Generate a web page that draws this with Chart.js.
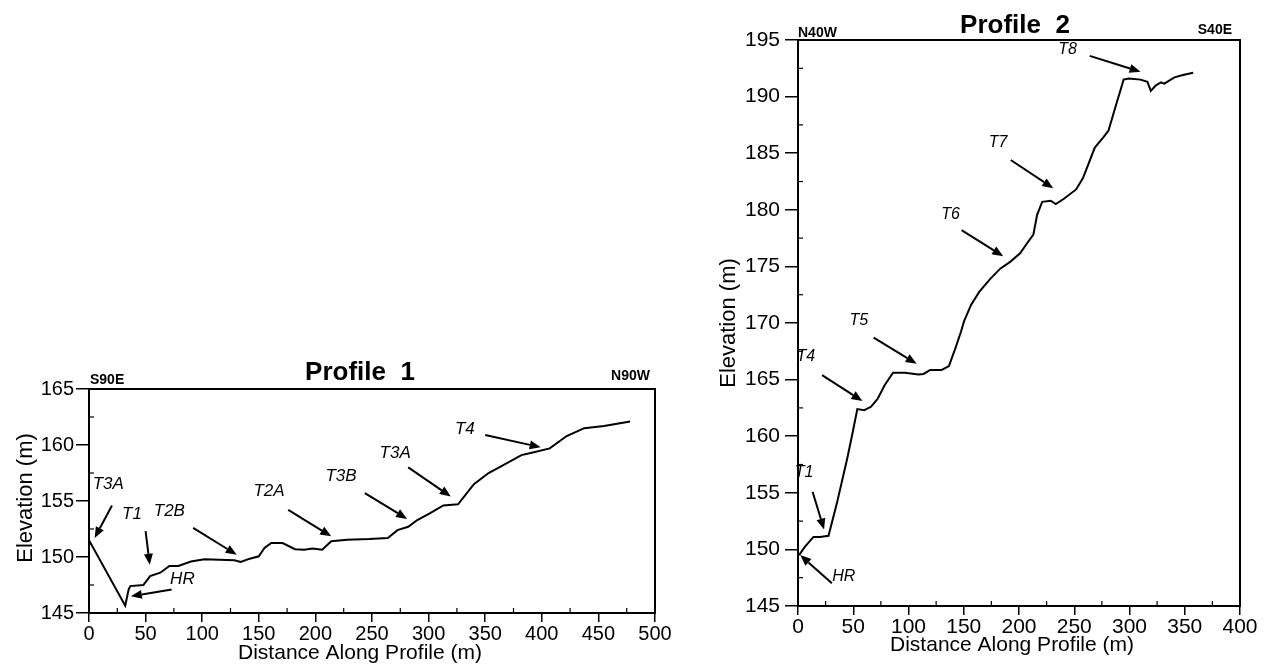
<!DOCTYPE html>
<html><head><meta charset="utf-8">
<script src="https://cdn.jsdelivr.net/npm/chart.js@4/dist/chart.umd.min.js"></script>
<style>
html,body{margin:0;padding:0;background:#fff;width:1264px;height:666px;overflow:hidden;}
#w1{position:absolute;left:0;top:340px;width:700px;height:326px;}
#w2{position:absolute;left:700px;top:0;width:564px;height:666px;}
</style></head><body>
<div id="w1"><canvas id="c1"></canvas></div>
<div id="w2"><canvas id="c2"></canvas></div>
<script>
// ---------- Profile 1 data ----------
const p1Dist = [0, 32, 35, 36.5, 48, 54, 63, 71, 79, 90, 102, 128.5, 134, 142, 150, 155, 161, 171, 182, 190, 197.6, 206, 214, 228, 247.5, 264, 272.5, 282, 290, 301, 313, 326, 340, 353, 366, 382, 393, 407, 422, 437.5, 455, 478];
const p1Elev = [151.5, 145.65, 147.1, 147.4, 147.5, 148.3, 148.6, 149.2, 149.2, 149.6, 149.8, 149.7, 149.55, 149.85, 150.06, 150.8, 151.25, 151.25, 150.7, 150.65, 150.75, 150.65, 151.4, 151.55, 151.6, 151.7, 152.4, 152.7, 153.3, 153.9, 154.6, 154.7, 156.5, 157.5, 158.2, 159.1, 159.35, 159.7, 160.8, 161.5, 161.7, 162.1];
const p1XTicks = [0, 50, 100, 150, 200, 250, 300, 350, 400, 450, 500];
const p1YTicks = [145, 150, 155, 160, 165];
// [label, labelX, labelY, arrowFromX, arrowFromY, arrowToX, arrowToY]
const p1Notes = [
  ["T3A", 17, 156.5, 20.3, 154.6, 5, 151.7],
  ["T1", 38, 153.8, 50, 152.3, 53.7, 149.3],
  ["T2B", 71, 154.1, 92, 152.6, 130.5, 150.2],
  ["HR", 82.5, 148.0, 73, 147.1, 37, 146.5],
  ["T2A", 159, 155.9, 176, 154.2, 214, 151.85],
  ["T3B", 222.6, 157.2, 243.7, 155.7, 281, 153.4],
  ["T3A", 270.5, 159.3, 282, 158.0, 319.6, 155.4],
  ["T4", 332, 161.4, 350, 160.9, 399, 159.8]
];
// ---------- Profile 2 data ----------
const p2Dist = [1, 6, 14, 20, 27.6, 35, 44.5, 49, 53.7, 60, 66, 72, 78.4, 86, 96.7, 109, 113.6, 119.7, 130, 136.6, 142.7, 147.4, 150.4, 156.6, 164, 174, 183, 192, 201, 207, 213, 216.4, 221, 228.7, 233.3, 241, 251.7, 257.9, 268.6, 276.3, 281, 287, 294.7, 299.3, 310, 316.2, 319.3, 323.9, 328.5, 331.5, 340.7, 348.4, 357.6];
const p2Elev = [149.5, 150.2, 151.1, 151.1, 151.2, 154.0, 158.0, 160.1, 162.4, 162.3, 162.6, 163.3, 164.5, 165.6, 165.6, 165.45, 165.5, 165.85, 165.85, 166.2, 167.85, 169.2, 170.2, 171.6, 172.75, 173.9, 174.8, 175.4, 176.15, 177.0, 177.8, 179.55, 180.7, 180.8, 180.5, 181.0, 181.8, 182.8, 185.5, 186.4, 187.0, 189.0, 191.5, 191.6, 191.5, 191.3, 190.5, 191.0, 191.25, 191.15, 191.7, 191.9, 192.1];
const p2XTicks = [0, 50, 100, 150, 200, 250, 300, 350, 400];
const p2YTicks = [145, 150, 155, 160, 165, 170, 175, 180, 185, 190, 195];
const p2Notes = [
  ["T8", 244, 194.2, 264, 193.6, 310, 192.2],
  ["T7", 181, 185.9, 192.5, 184.4, 231, 181.9],
  ["T6", 138, 179.6, 148, 178.2, 185.7, 175.9],
  ["T5", 55, 170.2, 68.5, 168.7, 107.4, 166.4],
  ["T4", 7, 167.05, 21.8, 165.4, 58.3, 163.1],
  ["T1", 5.5, 156.8, 13.2, 155.1, 23.6, 151.75],
  ["HR", 41.4, 147.6, 30.7, 147.0, 2, 149.5]
];

const FONT = "'Liberation Sans', Arial, Helvetica, sans-serif";

function build(id, cfg) {
  const pts = cfg.dist.map((d, i) => ({x: d, y: cfg.elev[i]}));
  const deco = {
    id: 'deco',
    afterDraw(chart) {
      const {ctx, chartArea: a, scales: {x, y}} = chart;
      ctx.save();
      ctx.strokeStyle = '#000'; ctx.fillStyle = '#000';
      ctx.lineWidth = 2;
      ctx.strokeRect(a.left, a.top, a.right - a.left, a.bottom - a.top);
      // minor ticks
      ctx.lineWidth = 1.2;
      const yt = cfg.yTicks, xt = cfg.xTicks;
      for (let i = 0; i < yt.length - 1; i++) {
        const py = y.getPixelForValue((yt[i] + yt[i + 1]) / 2);
        ctx.beginPath(); ctx.moveTo(a.left, py); ctx.lineTo(a.left + 5, py); ctx.stroke();
      }
      for (let i = 0; i < xt.length - 1; i++) {
        const px = x.getPixelForValue((xt[i] + xt[i + 1]) / 2);
        ctx.beginPath(); ctx.moveTo(px, a.bottom); ctx.lineTo(px, a.bottom - 5); ctx.stroke();
      }
      // annotations
      ctx.font = 'italic ' + cfg.noteSize + 'px ' + FONT;
      ctx.textAlign = 'center'; ctx.textBaseline = 'middle';
      cfg.notes.forEach(n => {
        ctx.fillText(n[0], x.getPixelForValue(n[1]), y.getPixelForValue(n[2]));
        const x0 = x.getPixelForValue(n[3]), y0 = y.getPixelForValue(n[4]);
        const x1 = x.getPixelForValue(n[5]), y1 = y.getPixelForValue(n[6]);
        const ang = Math.atan2(y1 - y0, x1 - x0);
        const L = 11, W = 4.5;
        const bx = x1 - L * Math.cos(ang), by = y1 - L * Math.sin(ang);
        ctx.lineWidth = 2;
        ctx.beginPath(); ctx.moveTo(x0, y0); ctx.lineTo(bx, by); ctx.stroke();
        ctx.beginPath();
        ctx.moveTo(x1, y1);
        ctx.lineTo(bx + W * Math.sin(ang), by - W * Math.cos(ang));
        ctx.lineTo(bx - W * Math.sin(ang), by + W * Math.cos(ang));
        ctx.closePath(); ctx.fill();
      });
      // titles
      ctx.textBaseline = 'alphabetic';
      ctx.font = 'bold 26px ' + FONT;
      ctx.fillText(cfg.title, cfg.titlePos[0], cfg.titlePos[1]);
      ctx.font = 'bold 14px ' + FONT;
      ctx.textAlign = 'left';
      ctx.fillText(cfg.leftTag, cfg.leftTagPos[0], cfg.leftTagPos[1]);
      ctx.textAlign = 'right';
      ctx.fillText(cfg.rightTag, cfg.rightTagPos[0], cfg.rightTagPos[1]);
      // axis titles
      ctx.textAlign = 'center'; ctx.textBaseline = 'middle';
      ctx.font = cfg.axisSize + 'px ' + FONT;
      ctx.fillText('Distance Along Profile (m)', cfg.xTitlePos[0], cfg.xTitlePos[1]);
      ctx.font = cfg.yAxisSize + 'px ' + FONT;
      ctx.translate(cfg.yTitlePos[0], cfg.yTitlePos[1]);
      ctx.rotate(-Math.PI / 2);
      ctx.fillText('Elevation (m)', 0, 0);
      ctx.restore();
    }
  };
  return new Chart(document.getElementById(id), {
    type: 'scatter',
    data: {datasets: [{data: pts, showLine: true, borderColor: '#000', borderWidth: 2,
      pointRadius: 0, tension: 0, fill: false}]},
    options: {
      responsive: true, maintainAspectRatio: false, animation: false,
      layout: {padding: {left: 0, top: cfg.padTop, right: cfg.padRight, bottom: 0}},
      plugins: {legend: {display: false}, tooltip: {enabled: false}},
      scales: {
        x: {
          type: 'linear', min: cfg.xTicks[0], max: cfg.xTicks[cfg.xTicks.length - 1],
          afterBuildTicks: s => { s.ticks = cfg.xTicks.map(v => ({value: v})); },
          afterFit: s => { s.height = cfg.xAxisH; },
          grid: {drawOnChartArea: false, color: '#000', tickLength: 9, lineWidth: 1.5},
          border: {color: '#000', width: 2},
          ticks: {color: '#000', font: {family: FONT, size: cfg.tickSize}, padding: 0, maxRotation: 0, autoSkip: false}
        },
        y: {
          type: 'linear', min: cfg.yTicks[0], max: cfg.yTicks[cfg.yTicks.length - 1],
          afterBuildTicks: s => { s.ticks = cfg.yTicks.map(v => ({value: v})); },
          afterFit: s => { s.width = cfg.yAxisW; },
          grid: {drawOnChartArea: false, color: '#000', tickLength: 13, lineWidth: 1.5},
          border: {color: '#000', width: 2},
          ticks: {color: '#000', font: {family: FONT, size: cfg.tickSize}, padding: cfg.yPad, autoSkip: false}
        }
      }
    },
    plugins: [deco]
  });
}

build('c1', {
  dist: p1Dist, elev: p1Elev, xTicks: p1XTicks, yTicks: p1YTicks, notes: p1Notes,
  padTop: 49, padRight: 45, xAxisH: 53, yAxisW: 89, tickSize: 20, noteSize: 17, axisSize: 21, yAxisSize: 22, yPad: 2,
  title: 'Profile  1', titlePos: [360, 40], leftTag: 'S90E', leftTagPos: [90, 44],
  rightTag: 'N90W', rightTagPos: [650, 40], xTitlePos: [360, 313], yTitlePos: [26, 158]
});
build('c2', {
  dist: p2Dist, elev: p2Elev, xTicks: p2XTicks, yTicks: p2YTicks, notes: p2Notes,
  padTop: 40, padRight: 24, xAxisH: 60, yAxisW: 98, tickSize: 21, noteSize: 16, axisSize: 21, yAxisSize: 22, yPad: 5,
  title: 'Profile  2', titlePos: [315, 33], leftTag: 'N40W', leftTagPos: [98, 37],
  rightTag: 'S40E', rightTagPos: [532, 34], xTitlePos: [312, 645], yTitlePos: [29, 323]
});
</script>
</body></html>
